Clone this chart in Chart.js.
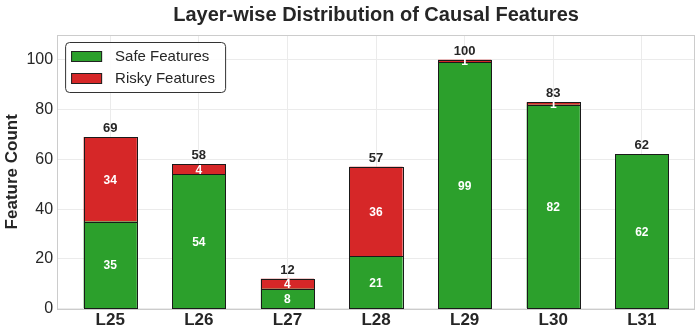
<!DOCTYPE html>
<html><head><meta charset="utf-8">
<script src="https://cdn.jsdelivr.net/npm/chart.js@4"></script>
<style>html,body{margin:0;padding:0;background:#fff}#wrap{width:698px;height:333px;position:relative}</style>
</head><body><div id="wrap"><canvas id="c" width="698" height="333"></canvas></div>
<script>
const layers = ["L25","L26","L27","L28","L29","L30","L31"];
const safeFeatures = [35,54,8,21,99,82,62];
const riskyFeatures = [34,4,4,36,1,1,0];
const yTicks = [0,20,40,60,80,100];
const FONT = "'Liberation Sans', Arial, sans-serif";

const labelPlugin = {
  id: 'labels',
  afterDatasetsDraw(chart) {
    const ctx = chart.ctx;
    ctx.save();
    // crisp outlines
    ctx.strokeStyle = '#1a1a1a';
    ctx.lineWidth = 1;
    chart.data.datasets.forEach((ds, di) => {
      chart.getDatasetMeta(di).data.forEach((bar, i) => {
        if (!ds.data[i].y) return;
        const l = Math.round(bar.x - bar.width / 2), r = Math.round(bar.x + bar.width / 2);
        const t = Math.round(bar.y), b = Math.round(bar.base);
        ctx.strokeRect(l + 0.5, t + 0.5, r - l, b - t);
      });
    });
    ctx.textAlign = 'center';
    ctx.textBaseline = 'middle';
    chart.data.datasets.forEach((ds, di) => {
      const meta = chart.getDatasetMeta(di);
      meta.data.forEach((bar, i) => {
        const v = ds.data[i].y;
        if (!v) return;
        ctx.fillStyle = '#ffffff';
        ctx.font = 'bold 12px ' + FONT;
        ctx.fillText(String(v), bar.x, (bar.y + bar.base) / 2 + 1);
      });
    });
    const top = chart.getDatasetMeta(1);
    top.data.forEach((bar, i) => {
      const total = safeFeatures[i] + riskyFeatures[i];
      const yy = chart.scales.y.getPixelForValue(total);
      ctx.fillStyle = '#262626';
      ctx.font = 'bold 13px ' + FONT;
      ctx.textBaseline = 'bottom';
      ctx.fillText(String(total), bar.x, yy - 2);
    });
    // legend
    const a = chart.chartArea;
    const lx = a.left + 8, ly = a.top + 7, lw = 160, lh = 50;
    ctx.beginPath();
    ctx.lineWidth = 1;
    ctx.strokeStyle = '#333333';
    ctx.fillStyle = 'rgba(255,255,255,0.9)';
    ctx.roundRect(lx + 0.5, ly + 0.5, lw, lh, 4);
    ctx.fill(); ctx.stroke();
    chart.data.datasets.forEach((ds, di) => {
      const sy = ly + 9 + di * 22;
      ctx.fillStyle = ds.backgroundColor;
      ctx.fillRect(lx + 6, sy, 31, 11);
      ctx.strokeStyle = '#222';
      ctx.strokeRect(lx + 6.5, sy + 0.5, 30, 10);
      ctx.fillStyle = '#262626';
      ctx.font = '15px ' + FONT;
      ctx.textAlign = 'left';
      ctx.textBaseline = 'middle';
      ctx.fillText(ds.label, lx + 50, sy + 6);
    });
    ctx.restore();
  }
};

const borderPlugin = {
  id: 'frame',
  beforeDatasetsDraw(chart) {
    const a = chart.chartArea, ctx = chart.ctx;
    ctx.save();
    ctx.strokeStyle = '#cccccc';
    ctx.lineWidth = 1;
    ctx.strokeRect(Math.round(a.left) + 0.5, Math.round(a.top) + 0.5, Math.round(a.right - a.left) - 1, Math.round(a.bottom - a.top));
    ctx.restore();
  }
};

new Chart(document.getElementById('c'), {
  type: 'bar',
  data: {
    datasets: [
      { label: 'Safe Features', data: safeFeatures.map((v,i)=>({x:i,y:v})), backgroundColor: '#2ca02c', borderWidth: 0, barPercentage: 0.6, categoryPercentage: 1 },
      { label: 'Risky Features', data: riskyFeatures.map((v,i)=>({x:i,y:v})), backgroundColor: '#d62728', borderWidth: 0, barPercentage: 0.6, categoryPercentage: 1 }
    ]
  },
  options: {
    responsive: false,
    animation: false,
    layout: { padding: { left: 2, right: 3, top: 0, bottom: 0 } },
    plugins: {
      legend: { display: false },
      tooltip: { enabled: false },
      title: { display: true, fullSize: false, text: 'Layer-wise Distribution of Causal Features', color: '#262626', font: { family: FONT, size: 20, weight: 'bold' }, padding: { top: 3, bottom: 8 } }
    },
    scales: {
      x: {
        type: 'linear', stacked: true, min: -0.6, max: 6.6, offset: false,
        afterBuildTicks(s) { s.ticks = layers.map((_, i) => ({ value: i })); },
        ticks: { callback: (v) => layers[v] ?? '', color: '#262626', font: { family: FONT, size: 17, weight: 'bold' }, padding: 2, autoSkip: false, maxRotation: 0 },
        grid: { color: '#ebebeb', drawTicks: false, offset: false },
        border: { display: false }
      },
      y: {
        stacked: true, min: 0, max: 110,
        afterBuildTicks(s) { s.ticks = yTicks.map(v => ({ value: v })); },
        ticks: { color: '#262626', font: { family: FONT, size: 16 }, padding: 4 },
        grid: { color: '#ebebeb', drawTicks: false },
        border: { display: false },
        title: { display: true, text: 'Feature Count', color: '#262626', font: { family: FONT, size: 17, weight: 'bold' }, padding: { top: 0, bottom: 0 } }
      }
    }
  },
  plugins: [labelPlugin, borderPlugin]
});
</script></body></html>
